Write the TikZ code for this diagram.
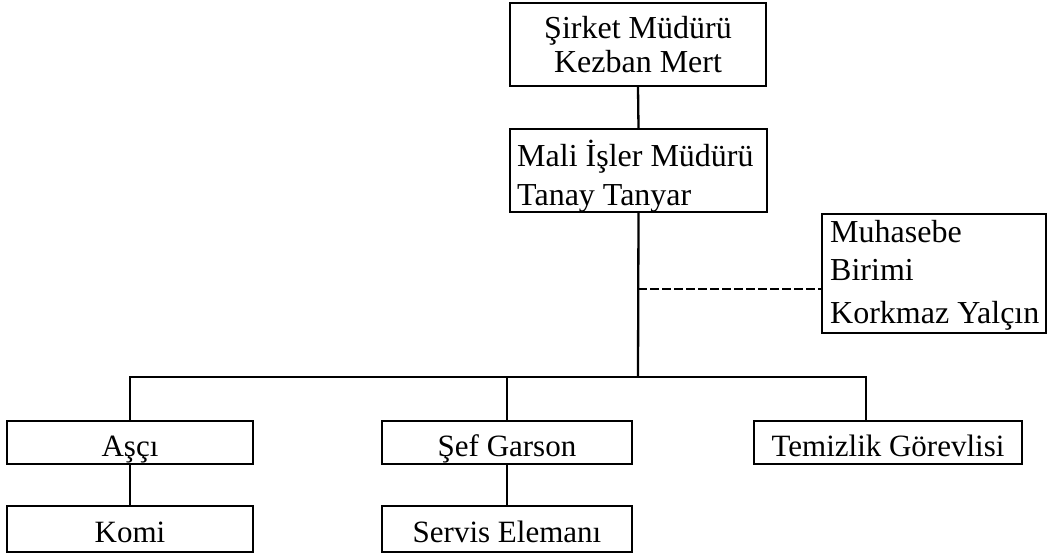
\documentclass[tikz,border=0pt]{standalone}
\usepackage{fontspec}
\setmainfont{Liberation Serif}
\begin{document}
\begin{tikzpicture}[x=1pt,y=1pt,
  box/.style={draw, line width=2.3pt, inner sep=0pt, font=\fontsize{31}{36}\selectfont,
              text height=27pt, text depth=0pt},
  txt/.style={inner sep=0pt, font=\fontsize{32}{36}\selectfont},
  link/.style={line width=2.3pt},
  dashlink/.style={line width=2.3pt, dash pattern=on 9pt off 3pt}]
\useasboundingbox (0,0) rectangle (1047,555);
% top
\node[box, minimum width=256, minimum height=83] (sm) at (638,510.5) {};
\node[txt, anchor=base] (sm1) at (638,555-39) {Şirket Müdürü};
\node[txt, anchor=base] (sm2) at (638,555-73) {Kezban Mert};
\node[box, minimum width=257, minimum height=83] (mi) at (638.5,384.5) {};
\node[txt, anchor=base west] (mi1) at (517,555-167) {Mali İşler Müdürü};
\node[txt, anchor=base west] (mi2) at (517,555-206) {Tanay Tanyar};
\node[box, minimum width=224, minimum height=119] (mb) at (934,281.5) {};
\node[txt, anchor=base west] (mb1) at (830,555-243) {Muhasebe};
\node[txt, anchor=base west] (mb2) at (830,555-281) {Birimi};
\node[txt, anchor=base west] (mb3) at (830,555-324) {Korkmaz Yalçın};
% bottom
\node[box, minimum width=246, minimum height=43] (as) at (130,112.5) {Aşçı};
\node[box, minimum width=246, minimum height=46, text height=26pt] (ko) at (130,26) {Komi};
\node[box, minimum width=250, minimum height=43] (sg) at (507,112.5) {Şef Garson};
\node[box, minimum width=250, minimum height=46, text height=26pt] (se) at (507,26) {Servis Elemanı};
\node[box, minimum width=268, minimum height=43] (tg) at (888,112.5) {Temizlik Görevlisi};
% connectors
\coordinate (bus) at (638,178);
\coordinate (dj) at (638,266);
\coordinate (tgtop) at (866,134);
\draw[link] (sm.south) -- (mi.north);
\draw[link] (mi.south) -- (bus);
\draw[dashlink] (dj) -- (dj -| mb.west);
\draw[link] (as.north) |- (bus) -| (tgtop);
\draw[link] (sg.north) -- (sg.north |- bus);
\draw[link] (as.south) -- (ko.north);
\draw[link] (sg.south) -- (se.north);
\end{tikzpicture}
\end{document}
